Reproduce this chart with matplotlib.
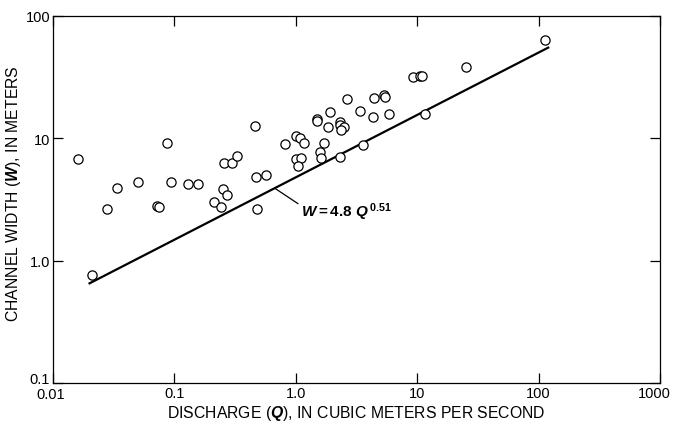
import numpy as np
import matplotlib
matplotlib.use("Agg")
import matplotlib.pyplot as plt
from matplotlib.transforms import ScaledTranslation

plt.rcParams['font.family'] = ['Liberation Sans', 'DejaVu Sans']
plt.rcParams['mathtext.fontset'] = 'custom'
plt.rcParams['mathtext.it'] = 'Liberation Sans:italic:bold'
plt.rcParams['mathtext.rm'] = 'Liberation Sans:bold'
plt.rcParams['mathtext.bf'] = 'Liberation Sans:bold'

# discharge Q (m3/s) and channel width W (m)
discharge = [0.0161, 0.0863, 0.0211, 0.028, 0.0338, 0.0498, 0.0722, 0.0745,
             0.0936, 0.130, 0.155, 0.213, 0.240, 0.252, 0.272, 0.254, 0.296,
             0.325, 0.460, 0.811, 0.995, 1.08, 1.17, 1.0, 1.11, 1.045, 1.58,
             1.71, 1.60, 1.50, 1.50, 1.93, 1.83, 2.30, 2.30, 2.50, 2.35, 2.63,
             3.36, 4.41, 5.37, 5.47, 4.36, 5.86, 11.7, 3.58, 2.30, 0.466,
             0.570, 0.475, 113.5, 25.4, 9.23, 10.6, 11.0]
width = [6.77, 9.1, 0.77, 2.65, 3.91, 4.38, 2.79, 2.76,
         4.36, 4.22, 4.25, 3.03, 2.73, 3.87, 3.41, 6.24, 6.24,
         7.21, 12.6, 9.05, 10.4, 10.0, 9.15, 6.73, 6.86, 5.97, 7.78,
         9.15, 6.86, 14.5, 13.96, 16.5, 12.4, 13.7, 12.9, 12.3, 11.6, 20.8,
         16.6, 21.4, 22.6, 21.7, 14.9, 15.7, 15.9, 8.81, 7.08, 4.79,
         5.0, 2.63, 64.0, 38.2, 32.0, 32.2, 32.2]

fit_coef = 4.8
fit_exp = 0.51
fit_range = [0.02, 120]

x_ticks = [0.01, 0.1, 1, 10, 100, 1000]
x_labels = ['0.01', '0.1', '1.0', '10', '100', '1000']
y_ticks = [0.1, 1, 10, 100]
y_labels = ['0.1', '1.0', '10', '100']


def fit(q):
    return fit_coef * np.asarray(q) ** fit_exp


fig = plt.figure(figsize=(6.73, 4.27), dpi=100)
ax = fig.add_axes([53 / 673, 1 - 384 / 427, 607 / 673, 367 / 427])

ax.scatter(discharge, width, s=44, facecolors='white', edgecolors='black',
           linewidths=0.9, zorder=3)

q_line = np.array(fit_range)
ax.plot(q_line, fit(q_line), color='black', lw=1.6, zorder=2)

ax.annotate(r'$W = 4.8\ Q^{\,0.51}$', xy=(0.67, fit(0.67)), xytext=(1.1, 2.55),
            fontsize=11, va='center', ha='left',
            arrowprops=dict(arrowstyle='-', color='black', lw=0.9,
                            shrinkA=0, shrinkB=0, relpos=(0, 0.75)))

ax.set_xscale('log')
ax.set_yscale('log')
ax.set_xlim(0.01, 1000)
ax.set_ylim(0.1, 100)
ax.set_xticks(x_ticks)
ax.set_xticklabels(x_labels)
ax.set_yticks(y_ticks)
ax.set_yticklabels(y_labels)
ax.minorticks_off()
ax.tick_params(which='major', direction='in', length=7, width=0.9,
               top=True, right=True, labelsize=10.5, pad=2)
# nudge the corner labels apart and keep the last one on the canvas
last = ax.get_xticklabels()[-1]
last.set_transform(last.get_transform() + ScaledTranslation(-4 / 72, 0, fig.dpi_scale_trans))
first = ax.get_xticklabels()[0]
first.set_transform(first.get_transform() + ScaledTranslation(-2 / 72, -1 / 72, fig.dpi_scale_trans))
low = ax.get_yticklabels()[0]
low.set_transform(low.get_transform() + ScaledTranslation(0, 4 / 72, fig.dpi_scale_trans))
for sp in ax.spines.values():
    sp.set_linewidth(0.9)

ax.set_xlabel(r'DISCHARGE ($Q$), IN CUBIC METERS PER SECOND', fontsize=11.3, labelpad=1)
ax.set_ylabel(r'CHANNEL WIDTH ($W$), IN METERS', fontsize=11.3)
ax.yaxis.set_label_coords(-0.05, 0.52)

fig.savefig('out.png', dpi=100)
